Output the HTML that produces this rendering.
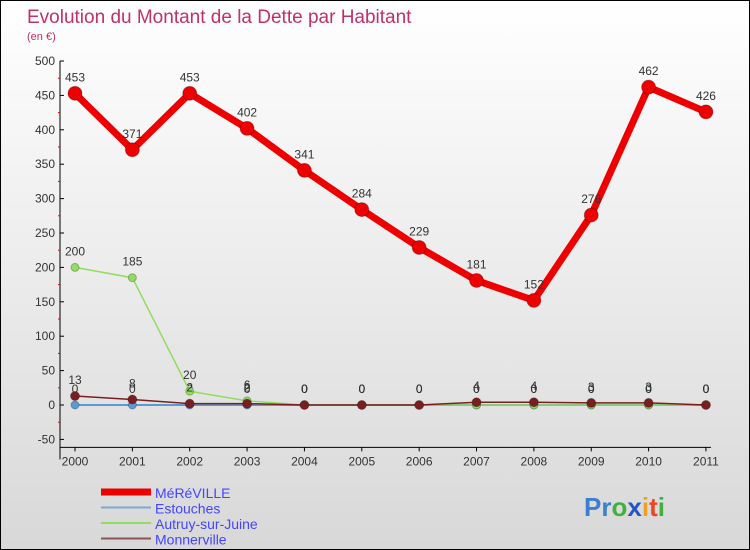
<!DOCTYPE html>
<html><head><meta charset="utf-8"><style>
html,body{margin:0;padding:0}
body{width:750px;height:550px;overflow:hidden;font-family:"Liberation Sans",sans-serif}
#wrap{position:relative;width:748px;height:548px;border:1px solid #000;background:linear-gradient(#ffffff,#d8d8d8)}
svg{position:absolute;left:0;top:0}
</style></head><body>
<div id="wrap">
<svg id="chart" width="748" height="548">
<text x="26" y="22" font-size="19" fill="#c0306a">Evolution du Montant de la Dette par Habitant</text>
<text x="26" y="39" font-size="11" fill="#c0306a">(en €)</text>
</svg>
</div>
<script>
const years=[2000,2001,2002,2003,2004,2005,2006,2007,2008,2009,2010,2011];
const mereville=[453,371,453,402,341,284,229,181,152,276,462,426];
const estouches=[0,0,0,0,0,0,0,0,0,0,0,0];
const autruy=[200,185,20,6,0,0,0,0,0,0,0,0];
const monnerville=[13,8,2,2,0,0,0,4,4,3,3,0];
const yTicks=[-50,0,50,100,150,200,250,300,350,400,450,500];
const NS="http://www.w3.org/2000/svg";
const svg=document.getElementById('chart');
const X0=74,XSTEP=57.36,Y0=404,YSCALE=0.688;
function xs(i){return X0+i*XSTEP;}
function ys(v){return Y0-v*YSCALE;}
function mk(tag,attrs,parent){const e=document.createElementNS(NS,tag);for(const k in attrs)e.setAttribute(k,attrs[k]);(parent||svg).appendChild(e);return e;}
const axis=mk('g',{});


mk('line',{x1:X0-15,y1:ys(500),x2:X0-15,y2:ys(-50)+20,stroke:'#000'},axis);
yTicks.forEach(v=>{
  const t=mk('text',{x:X0-20,y:ys(v)+4,'font-size':12,fill:'#333','text-anchor':'end'},axis);
  t.textContent=v;
  
  
  mk('line',{x1:X0-15,y1:ys(v),x2:X0-11,y2:ys(v),stroke:'#000'},axis);
  if(v<500) mk('line',{x1:X0-17,y1:ys(v+25),x2:X0-15,y2:ys(v+25),stroke:'#e00'},axis);
});
const xa=mk('g',{});


mk('line',{x1:X0-15,y1:ys(-50)+8,x2:xs(11)+5,y2:ys(-50)+8,stroke:'#000'},xa);
years.forEach((y,i)=>{
  mk('line',{x1:xs(i),y1:ys(-50)+8,x2:xs(i),y2:ys(-50)+12,stroke:'#000'},xa);
  const t=mk('text',{x:xs(i),y:ys(-50)+26,'font-size':12,fill:'#333','text-anchor':'middle'},xa);
  t.textContent=y;
  
  
});
function series(vals,color,w,r,name,labels){
  const g=mk('g',{});
  
  
  mk('polyline',{points:vals.map((v,i)=>xs(i)+','+ys(v)).join(' '),fill:'none',stroke:color,'stroke-width':w,'stroke-linejoin':'round'},g);
  vals.forEach((v,i)=>{
    const c=mk('circle',{cx:xs(i),cy:ys(v),r:r,fill:color,stroke:'rgba(0,0,0,0.25)'},g);
    
    
    if(labels){
      const t=mk('text',{x:xs(i),y:ys(v)-12,'font-size':12,fill:'#333','text-anchor':'middle'},g);
      t.textContent=v;
      
      
    }
  });
}
series(estouches,'#5a9bd5',2,4,'estouches',true);
series(autruy,'#90dd60',1.5,4,'autruy',true);
series(monnerville,'#7a1f1f',1.5,4.5,'monnerville',true);
series(mereville,'#ee0000',7,7,'mereville',true);
const legend=[['MéRéVILLE','#ee0000',7],['Estouches','#7aaad0',2],['Autruy-sur-Juine','#90dd60',2],['Monnerville','#8a5555',2]];
legend.forEach((l,i)=>{
  const g=mk('g',{});
  
  
  const y=491+i*15.5;
  mk('line',{x1:100,y1:y,x2:150,y2:y,stroke:l[1],'stroke-width':l[2]},g);
  const t=mk('text',{x:154,y:y+6,'font-size':14,fill:'#4444ff'},g);
  t.textContent=l[0];
});
const logo=mk('text',{x:583,y:515,'font-size':26,'font-weight':'bold'});


[['P','#3a7fd0'],['r','#3a7fd0'],['o','#40b040'],['x','#2255cc'],['i','#f0a020'],['t','#ee4422'],['i','#40b040']].forEach(c=>{
  const s=mk('tspan',{fill:c[1]},logo);s.textContent=c[0];
});
</script>
</body></html>
